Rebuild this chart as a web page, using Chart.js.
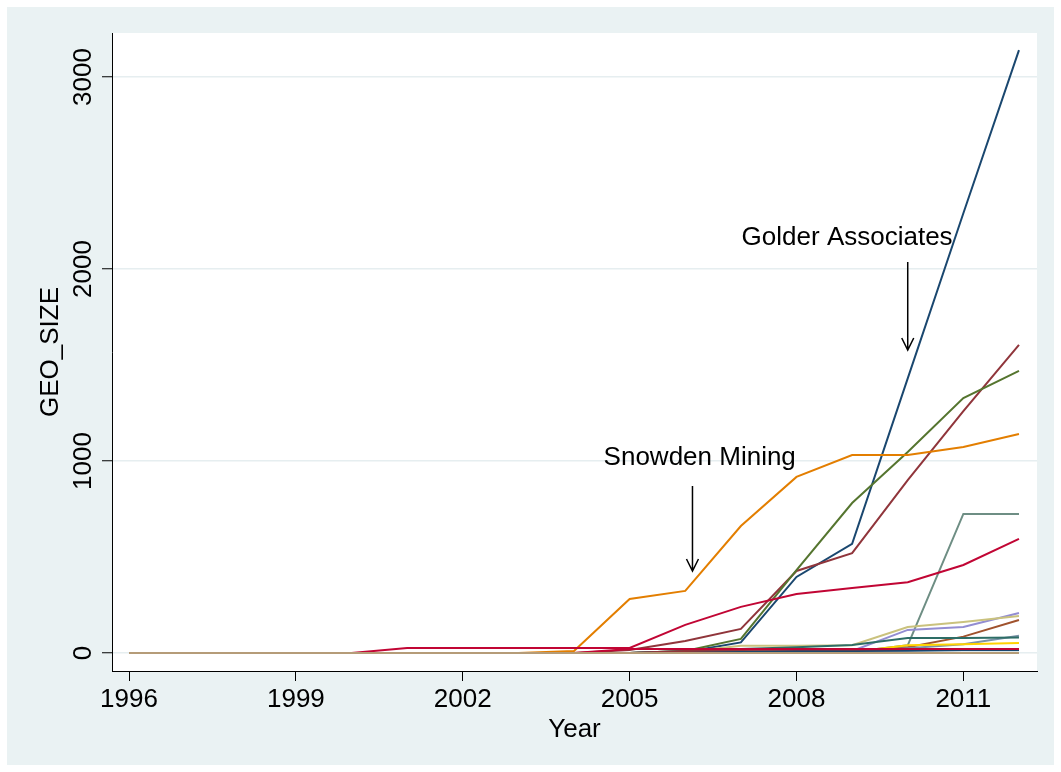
<!DOCTYPE html>
<html lang="en">
<head>
<meta charset="UTF-8">
<title>GEO_SIZE by year</title>
<style>
    * { margin: 0; padding: 0; box-sizing: border-box; }
    html, body { width: 1061px; height: 772px; background: #fff; overflow: hidden; }
    #geoChart { display: block; }
</style>
</head>
<body>
<canvas id="geoChart" width="1061" height="772"></canvas>

<script src="https://cdn.jsdelivr.net/npm/chart.js"></script>
<script>
// Years and axis ticks
const years  = [1996, 1997, 1998, 1999, 2000, 2001, 2002, 2003, 2004, 2005, 2006, 2007, 2008, 2009, 2010, 2011, 2012];
const xTicks = [1996, 1999, 2002, 2005, 2008, 2011];
const yTicks = [0, 1000, 2000, 3000];

// GEO_SIZE per firm, one value per year
const golderAssociates = [0, 0, 0, 0, 0, 0, 0, 0, 0, 0, 5, 55, 396, 568, 1430, 2290, 3140];
const firmMaroon       = [0, 0, 0, 0, 0, 0, 0, 0, 0, 15, 62, 125, 427, 520, 900, 1260, 1605];
const firmGreen        = [0, 0, 0, 0, 0, 0, 0, 0, 0, 0, 10, 73, 432, 781, 1047, 1328, 1469];
const snowdenMining    = [0, 0, 0, 0, 0, 0, 0, 0, 10, 281, 323, 661, 917, 1031, 1031, 1073, 1140];
const firmTeal         = [0, 0, 0, 0, 0, 0, 0, 0, 0, 0, 0, 0, 0, 5, 40, 724, 724];
const firmCranberry    = [0, 0, 0, 0, 0, 26, 26, 26, 26, 26, 146, 240, 307, 338, 368, 458, 594];
const firmLavender     = [0, 0, 0, 0, 0, 0, 0, 0, 0, 0, 0, 0, 0, 10, 120, 135, 208];
const firmKhaki        = [0, 0, 0, 0, 0, 0, 0, 0, 0, 0, 5, 38, 38, 40, 135, 161, 193];
const firmSienna       = [0, 0, 0, 0, 0, 0, 0, 0, 0, 0, 0, 0, 0, 5, 30, 85, 172];
const firmEmidblue     = [0, 0, 0, 0, 0, 0, 0, 0, 0, 0, 0, 5, 8, 10, 25, 45, 90];
const firmEmerald      = [0, 0, 0, 0, 0, 0, 0, 0, 0, 0, 10, 20, 30, 42, 78, 78, 80];
const firmBrown        = [0, 0, 0, 0, 0, 0, 0, 0, 0, 0, 0, 5, 8, 10, 12, 14, 15];
const firmErose        = [0, 0, 0, 0, 0, 0, 0, 0, 0, 0, 0, 0, 5, 5, 6, 8, 10];
const firmGold         = [0, 0, 0, 0, 0, 0, 0, 0, 0, 0, 0, 0, 0, 5, 40, 45, 52];
const firmBluishgray   = [0, 0, 0, 0, 0, 0, 0, 0, 0, 0, 0, 0, 0, 3, 5, 5, 5];
const firmNavy2        = [0, 0, 0, 0, 0, 0, 0, 0, 0, 0, 5, 8, 10, 10, 12, 15, 15];
const firmMaroon2      = [0, 0, 0, 0, 0, 0, 0, 0, 0, 0, 10, 15, 18, 18, 20, 20, 20];
const firmCranberry2   = [0, 0, 0, 0, 0, 0, 0, 0, 0, 20, 20, 20, 20, 20, 20, 20, 20];
const firmLavender2    = [0, 0, 0, 0, 0, 0, 0, 0, 0, 0, 0, 0, 0, 0, 0, 0, 0];
const firmTan          = [0, 0, 0, 0, 0, 0, 0, 0, 0, 0, 0, 0, 0, 0, 0, 0, 0];

// Stata s2color-like palette, drawn in this order (later ones on top)
const seriesList = [
    [golderAssociates, '#1a476f'],
    [firmMaroon,       '#90353b'],
    [firmGreen,        '#55752f'],
    [snowdenMining,    '#e37e00'],
    [firmTeal,         '#6e8e84'],
    [firmCranberry,    '#c10534'],
    [firmLavender,     '#938dd2'],
    [firmKhaki,        '#cac27e'],
    [firmSienna,       '#a0522d'],
    [firmEmidblue,     '#7b92a8'],
    [firmEmerald,      '#2d6d66'],
    [firmBrown,        '#9c8847'],
    [firmErose,        '#bfa19c'],
    [firmGold,         '#ffd200'],
    [firmBluishgray,   '#d9e6eb'],
    [firmNavy2,        '#1a476f'],
    [firmMaroon2,      '#90353b'],
    [firmCranberry2,   '#c10534'],
    [firmLavender2,    '#938dd2'],
    [firmTan,          '#b59c78']
];

// Text labels with arrows pointing at a firm's line
const notes = [
    { text: 'Golder Associates', x: 2008.91, textY: 2125, arrowX: 2010.0, arrowTop: 2036, arrowTip: 1578 },
    { text: 'Snowden Mining',    x: 2006.26, textY: 979,  arrowX: 2006.13, arrowTop: 870, arrowTip: 427 }
];

const FONT = '26px "Liberation Sans", Arial, Helvetica, sans-serif';

const datasets = seriesList.map(([values, color], i) => ({
    label: 'firm ' + (i + 1),
    data: values.map((v, k) => ({ x: years[k], y: v })),
    borderColor: color,
    backgroundColor: color,
    borderWidth: 2,
    pointRadius: 0,
    tension: 0,
    fill: false,
    order: seriesList.length - i
}));

// Graph region, plot region, tick labels, titles and notes
const stataLook = {
    id: 'stataLook',
    beforeDraw(chart) {
        const { ctx, chartArea: a } = chart;
        ctx.save();
        ctx.fillStyle = '#ffffff';
        ctx.fillRect(0, 0, chart.width, chart.height);
        ctx.fillStyle = '#eaf2f3';
        ctx.fillRect(7, 7, chart.width - 14, chart.height - 14);
        ctx.fillStyle = '#ffffff';
        ctx.fillRect(a.left, a.top, a.right - a.left, a.bottom - a.top);
        ctx.restore();
    },
    afterDraw(chart) {
        const { ctx, chartArea: a, scales: { x, y } } = chart;
        ctx.save();
        ctx.fillStyle = '#000';
        ctx.strokeStyle = '#000';
        ctx.font = FONT;
        ctx.textAlign = 'center';
        ctx.textBaseline = 'alphabetic';

        xTicks.forEach(t => ctx.fillText(String(t), x.getPixelForValue(t), 707));
        ctx.fillText('Year', (a.left + a.right) / 2, 737);

        yTicks.forEach(t => {
            ctx.save();
            ctx.translate(91, y.getPixelForValue(t));
            ctx.rotate(-Math.PI / 2);
            ctx.fillText(String(t), 0, 0);
            ctx.restore();
        });
        ctx.save();
        ctx.translate(58, (a.top + a.bottom) / 2);
        ctx.rotate(-Math.PI / 2);
        ctx.fillText('GEO_SIZE', 0, 0);
        ctx.restore();

        notes.forEach(n => {
            ctx.fillText(n.text, x.getPixelForValue(n.x), y.getPixelForValue(n.textY));
            const ax = x.getPixelForValue(n.arrowX);
            const top = y.getPixelForValue(n.arrowTop);
            const tip = y.getPixelForValue(n.arrowTip);
            ctx.lineWidth = 1.5;
            ctx.beginPath();
            ctx.moveTo(ax, top);
            ctx.lineTo(ax, tip);
            ctx.moveTo(ax - 6, tip - 12);
            ctx.lineTo(ax, tip);
            ctx.lineTo(ax + 6, tip - 12);
            ctx.stroke();
        });
        ctx.restore();
    }
};

new Chart(document.getElementById('geoChart'), {
    type: 'line',
    data: { datasets },
    options: {
        responsive: false,
        animation: false,
        devicePixelRatio: 1,
        layout: { padding: { left: 0, top: 33, right: 24, bottom: 0 } },
        plugins: { legend: { display: false }, tooltip: { enabled: false } },
        scales: {
            x: {
                type: 'linear',
                min: 1995.694,
                max: 2012.324,
                afterBuildTicks: s => { s.ticks = xTicks.map(v => ({ value: v })); },
                afterFit: s => { s.height = 101; },
                ticks: { color: 'rgba(0,0,0,0)', font: { size: 26 } },
                grid: { drawOnChartArea: false, drawTicks: true, tickLength: 10, tickColor: '#000', tickWidth: 1 },
                border: { display: true, color: '#000', width: 1 }
            },
            y: {
                type: 'linear',
                min: -94,
                max: 3229,
                afterBuildTicks: s => { s.ticks = yTicks.map(v => ({ value: v })); },
                afterFit: s => { s.width = 112; },
                ticks: { color: 'rgba(0,0,0,0)', font: { size: 26 } },
                grid: { color: '#e6eef0', lineWidth: 1.5, drawTicks: true, tickLength: 10, tickColor: '#000', tickWidth: 1 },
                border: { display: true, color: '#000', width: 1 }
            }
        }
    },
    plugins: [stataLook]
});
</script>
</body>
</html>
